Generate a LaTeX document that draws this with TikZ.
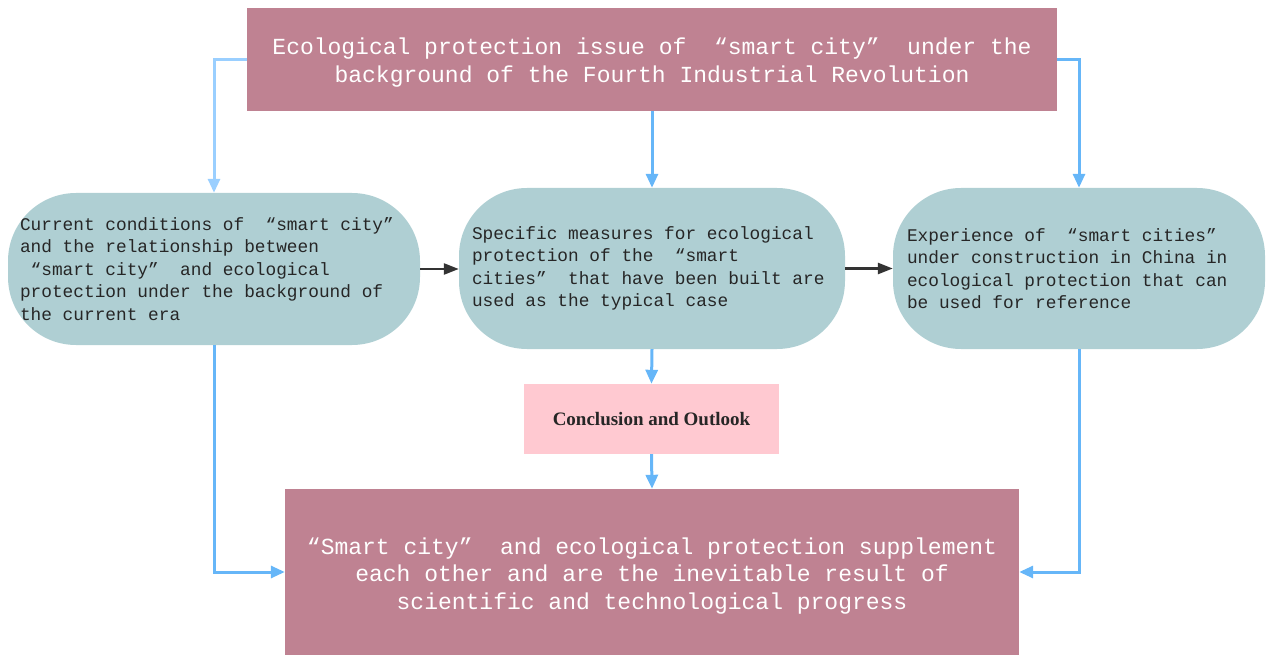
\documentclass[tikz,border=0pt]{standalone}
\usepackage{fontspec}
\setmainfont{Liberation Serif}
\newfontfamily\boxfont{Liberation Mono}
\usetikzlibrary{arrows.meta}

\definecolor{mauvebox}{HTML}{BF8292}
\definecolor{stageblue}{HTML}{AFCFD3}
\definecolor{pinkbox}{HTML}{FFC9D1}
\definecolor{flowblue}{HTML}{66B6F8}
\definecolor{paleblue}{HTML}{9ACFFF}
\definecolor{inktext}{HTML}{262626}
\definecolor{linkgrey}{HTML}{333333}

% fixed-width spaces for the monospaced text
\newcommand{\monosize}[2]{\boxfont\fontsize{#1}{#2}\selectfont
  \fontdimen2\font=0.6em\fontdimen3\font=0pt\fontdimen4\font=0pt}

\tikzset{
  headbox/.style={fill=mauvebox, draw=none, inner sep=0pt},
  headtext/.style={text=white, align=flush center, inner sep=0pt,
    font=\monosize{23}{27.5}},
  stagebox/.style={fill=stageblue, draw=none, rounded corners=68pt, text=inktext,
    align=flush left, inner ysep=0pt, font=\monosize{17.8}{22.5}},
  notebox/.style={fill=pinkbox, draw=none, text=inktext, align=center, inner sep=0pt,
    font=\bfseries\fontsize{19}{22}\selectfont},
  flow/.style={draw=flowblue, line width=3pt,
    -{Triangle[length=14pt,width=12pt]}},
  link/.style={draw=linkgrey, line width=2.5pt,
    -{Triangle[length=15pt,width=11pt]}}
}

\begin{document}
\begin{tikzpicture}[x=1pt,y=-1pt]
\useasboundingbox (0,0) rectangle (1267,655);

% title and result boxes
\node[headbox, minimum width=810, minimum height=103] (top) at (652,59.5) {};
\node[headtext] (toptitle) at ([yshift=-3pt]top.center)
  {Ecological protection issue of~~“smart city”~~under the\\
   background of the Fourth Industrial Revolution};
\node[headbox, minimum width=734, minimum height=166] (bottom) at (652,572) {};
\node[headtext] (bottomtitle) at ([yshift=-4pt]bottom.center)
  {“Smart city”~~and ecological protection supplement\\
   each other and are the inevitable result of\\
   scientific and technological progress};

% three research stages
\node[stagebox, minimum width=412, minimum height=152, inner xsep=12pt,
      text width=388pt] (left) at (214,269)
  {Current conditions of~~“smart city”\\
   and the relationship between\\
   ~“smart city”~~and ecological\\
   protection under the background of\\
   the current era};
\node[stagebox, minimum width=386, minimum height=161, inner xsep=13pt,
      text width=360pt] (mid) at (652,268.5)
  {Specific measures for ecological\\
   protection of the~~“smart\\
   cities”~~that have been built are\\
   used as the typical case};
\node[stagebox, minimum width=372, minimum height=161, inner xsep=14pt,
      text width=344pt] (right) at (1079,268.5)
  {Experience of~~“smart cities”\\
   under construction in China in\\
   ecological protection that can\\
   be used for reference};

% conclusion
\node[notebox, minimum width=255, minimum height=70] (pink) at (651.5,419)
  {Conclusion and Outlook};

% connectors
\draw[flow, draw=paleblue] (top.west) -| (left.north);
\draw[flow] (top.east) -| (right.north);
\draw[flow] (top.south) -- (mid.north);
\draw[flow] (mid.south) -- (pink.north);
\draw[flow] (pink.south) -- (bottom.north);
\draw[flow] (left.south) |- (bottom.west);
\draw[flow] (right.south) |- (bottom.east);
\draw[link] (left.east) -- (left.east -| mid.west);
\draw[link] (mid.east) -- (mid.east -| right.west);
\end{tikzpicture}
\end{document}
